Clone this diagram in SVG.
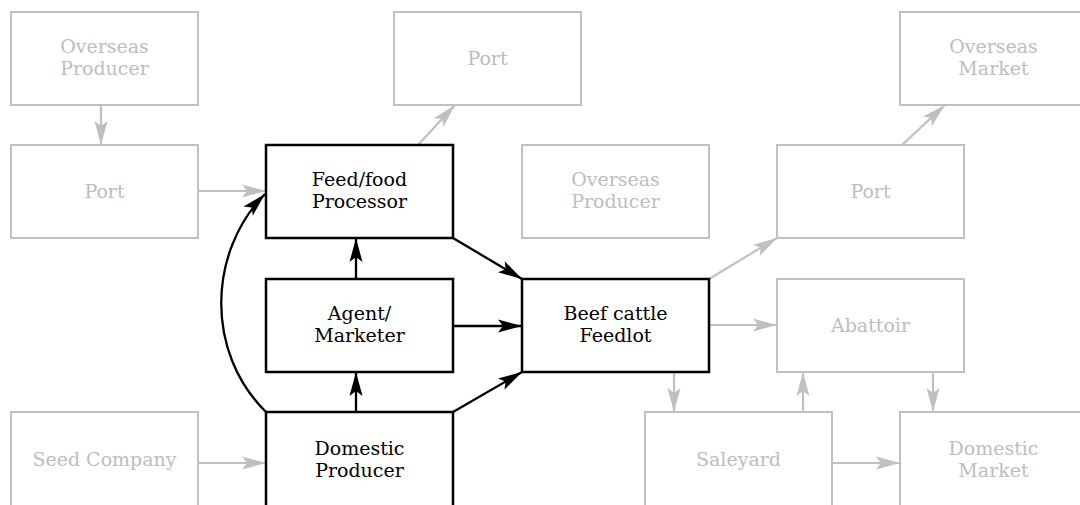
<svg xmlns="http://www.w3.org/2000/svg" width="1080" height="505" viewBox="0 0 1080 505">
<style>
.box{fill:#fff;stroke-width:2}
.g .box{stroke:#c0c0c0}
.k .box{stroke:#000;stroke-width:2.5}
text{font-family:"DejaVu Serif","Liberation Serif",serif;font-size:19px;text-anchor:middle}
.g text{fill:#bdbdbd}
.k text{fill:#000}
.cg{stroke:#c0c0c0;stroke-width:2.2;fill:none;marker-end:url(#ag)}
.ck{stroke:#000;stroke-width:2.3;fill:none;marker-end:url(#ak)}
</style>
<defs>
<marker id="ag" markerUnits="userSpaceOnUse" markerWidth="26" markerHeight="14" refX="24" refY="6.5" orient="auto" overflow="visible"><path d="M0,0 L24,6.5 L0,13 L5,6.5 Z" fill="#c0c0c0"/></marker>
<marker id="ak" markerUnits="userSpaceOnUse" markerWidth="26" markerHeight="14" refX="24" refY="6.5" orient="auto" overflow="visible"><path d="M0,0 L24,6.5 L0,13 L5,6.5 Z" fill="#000"/></marker>
</defs>
<rect width="1080" height="505" fill="#fff"/>
<g id="connectors">
<path class="cg" d="M101,105 L101,145"/>
<path class="cg" d="M198,191 L266,191"/>
<path class="cg" d="M418,145 L455,105"/>
<path class="cg" d="M902,145 L945,105"/>
<path class="cg" d="M709,279 L777,238"/>
<path class="cg" d="M709,325 L777,325"/>
<path class="cg" d="M674,372 L674,412"/>
<path class="cg" d="M803,412 L803,372"/>
<path class="cg" d="M933,372 L933,412"/>
<path class="cg" d="M832,463 L900,463"/>
<path class="cg" d="M198,463 L266,463"/>
<path class="ck" d="M356,279 L356,238"/>
<path class="ck" d="M356,412 L356,372"/>
<path class="ck" d="M453,326 L522,326"/>
<path class="ck" d="M453,238 L522,279"/>
<path class="ck" d="M453,412 L522,372"/>
<path class="ck" d="M266,412 C205,352 208,252 265,194"/>
</g>
<g id="n_overseas_producer_1" class="g"><rect class="box" x="11" y="12" width="187" height="93"/><text x="104.5" y="53">Overseas</text><text x="104.5" y="75">Producer</text></g>
<g id="n_port_top" class="g"><rect class="box" x="394" y="12" width="187" height="93"/><text x="487.5" y="65">Port</text></g>
<g id="n_overseas_market" class="g"><rect class="box" x="900" y="12" width="187" height="93"/><text x="993.5" y="53">Overseas</text><text x="993.5" y="75">Market</text></g>
<g id="n_port_left" class="g"><rect class="box" x="11" y="145" width="187" height="93"/><text x="104.5" y="198">Port</text></g>
<g id="n_feed_processor" class="k"><rect class="box" x="266" y="145" width="187" height="93"/><text x="359.5" y="186">Feed/food</text><text x="359.5" y="208">Processor</text></g>
<g id="n_overseas_producer_2" class="g"><rect class="box" x="522" y="145" width="187" height="93"/><text x="615.5" y="186">Overseas</text><text x="615.5" y="208">Producer</text></g>
<g id="n_port_right" class="g"><rect class="box" x="777" y="145" width="187" height="93"/><text x="870.5" y="198">Port</text></g>
<g id="n_agent" class="k"><rect class="box" x="266" y="279" width="187" height="93"/><text x="359.5" y="320">Agent/</text><text x="359.5" y="342">Marketer</text></g>
<g id="n_feedlot" class="k"><rect class="box" x="522" y="279" width="187" height="93"/><text x="615.5" y="320">Beef cattle</text><text x="615.5" y="342">Feedlot</text></g>
<g id="n_abattoir" class="g"><rect class="box" x="777" y="279" width="187" height="93"/><text x="870.5" y="332">Abattoir</text></g>
<g id="n_seed_company" class="g"><rect class="box" x="11" y="412" width="187" height="95"/><text x="104.5" y="466">Seed Company</text></g>
<g id="n_domestic_producer" class="k"><rect class="box" x="266" y="412" width="187" height="95"/><text x="359.5" y="455">Domestic</text><text x="359.5" y="477">Producer</text></g>
<g id="n_saleyard" class="g"><rect class="box" x="645" y="412" width="187" height="95"/><text x="738.5" y="466">Saleyard</text></g>
<g id="n_domestic_market" class="g"><rect class="box" x="900" y="412" width="187" height="95"/><text x="993.5" y="455">Domestic</text><text x="993.5" y="477">Market</text></g>
</svg>
